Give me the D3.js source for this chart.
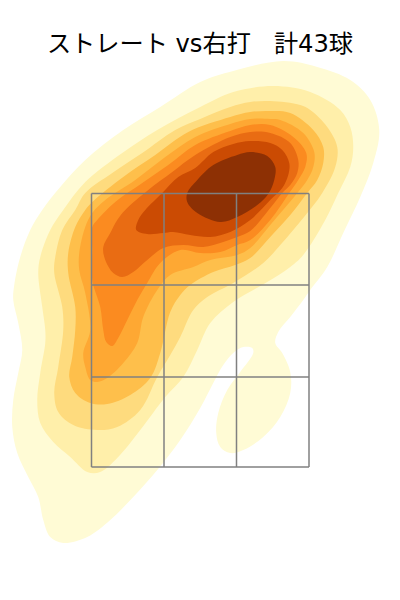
<!DOCTYPE html>
<html><head><meta charset="utf-8">
<script src="https://cdn.jsdelivr.net/npm/d3@7"></script>
<style>html,body{margin:0;padding:0;background:#fff}svg{display:block}</style>
</head><body><svg id="c" width="400" height="600"></svg>
<script>
const titleText = "ストレート vs右打   計43球";
const levelColors = ["#FFFBD5","#FFEFAA","#FEDB7E","#FEBF4B","#FEA833","#FB8B20","#E96C13","#CB4B03","#8D3004"];
const zoneX = [-108.75,-36.25,36.25,108.75];
const zoneH = [0,90,182,273.5];
const ring1 = [[83,406],[117,400],[150,387],[170,367],[179,337],[173,304],[160,270],[143,234],[127,200],[110,177],[103,167],[90,150],[78,135],[75,124],[82,114],[90,95],[90,74],[80,50],[63,30],[43,17],[30,14],[20,20],[16,34],[18,54],[27,77],[40,95],[53,114],[52,119],[43,120],[33,114],[23,102],[13,84],[0,59],[-20,27],[-43,-3],[-67,-30],[-90,-53],[-113,-70],[-137,-76],[-150,-70],[-157,-53],[-162,-30],[-172,-10],[-183,14],[-188,40],[-187,67],[-182,94],[-178,117],[-182,144],[-187,167],[-186,182],[-180,210],[-170,237],[-158,257],[-140,280],[-115,307],[-77,337],[-40,360],[0,385],[33,396]];
const ring2 = [[73,381],[110,375],[140,357],[150,340],[153,320],[150,300],[138,274],[125,247],[103,212],[90,200],[67,185],[33,165],[10,144],[-3,117],[-17,90],[-35,70],[-60,37],[-83,9],[-100,-5],[-113,-5],[-130,10],[-147,25],[-160,44],[-163,67],[-160,94],[-155,124],[-155,137],[-158,160],[-162,194],[-160,210],[-150,237],[-137,257],[-115,285],[-78,314],[-43,337],[0,360],[33,375]];
const ring3 = [[70,366],[100,362],[110,357],[127,340],[137,320],[135,300],[122,274],[103,249],[80,222],[63,204],[33,184],[7,170],[-7,157],[-20,130],[-30,112],[-43,90],[-60,57],[-83,40],[-103,37],[-127,42],[-142,55],[-146,74],[-142,100],[-137,137],[-138,160],[-146,194],[-145,210],[-138,237],[-125,257],[-115,274],[-88,294],[-58,314],[-25,337],[0,348],[30,360],[50,365]];
const ring4 = [[70,356],[90,354],[113,337],[123,320],[123,304],[117,287],[107,274],[90,252],[70,230],[50,209],[35,202],[13,195],[-10,182],[-20,172],[-30,155],[-40,114],[-50,89],[-70,72],[-93,63],[-110,64],[-125,74],[-131,90],[-128,110],[-125,137],[-125,160],[-132,194],[-132,214],[-125,240],[-115,257],[-108,265],[-77,290],[-45,312],[-12,335],[30,350],[50,355]];
const ring5 = [[50,348],[70,348],[80,347],[103,334],[114,315],[113,300],[107,287],[97,274],[70,242],[50,219],[37,212],[10,207],[-7,200],[-30,192],[-43,177],[-57,150],[-63,124],[-77,104],[-93,89],[-103,85],[-110,87],[-115,100],[-117,114],[-110,137],[-115,174],[-121,197],[-121,214],[-115,240],[-108,254],[-95,267],[-65,287],[-35,310],[-5,330],[30,343]];
const ring6 = [[50,342],[70,342],[93,330],[106,314],[105,300],[98,287],[89,274],[70,247],[50,227],[37,222],[20,215],[0,214],[-20,217],[-40,204],[-53,184],[-63,167],[-73,147],[-82,129],[-88,121],[-94,125],[-97,137],[-100,160],[-108,187],[-108,217],[-108,240],[-103,247],[-85,265],[-58,284],[-32,302],[-5,322],[30,336]];
const ring7 = [[50,335],[70,334],[90,324],[98,307],[97,294],[90,282],[82,274],[70,259],[50,236],[37,230],[23,225],[3,220],[-17,222],[-37,219],[-53,207],[-67,195],[-78,190],[-87,194],[-95,207],[-97,220],[-90,234],[-83,247],[-75,257],[-52,277],[-28,295],[-5,312],[30,330]];
const ring8 = [[50,326],[70,324],[82,317],[89,304],[88,292],[82,279],[70,267],[50,247],[30,235],[10,230],[-10,232],[-27,235],[-37,234],[-53,233],[-64,237],[-62,247],[-55,257],[-38,274],[-22,290],[-5,299],[13,315],[33,323]];
const ring9 = [[50,315],[67,311],[75,300],[74,287],[68,273],[57,262],[37,250],[20,245],[-3,254],[-13,265],[-13,274],[-3,287],[13,302],[37,312]];
const rings = [ring1,ring2,ring3,ring4,ring5,ring6,ring7,ring8,ring9];

const svg = d3.select("#c");
const x = d3.scaleLinear().domain([zoneX[0],zoneX[3]]).range([91.5,309]);
const y = d3.scaleLinear().domain([zoneH[0],zoneH[3]]).range([467,193.5]);
const line = d3.line().x(d=>x(d[0])).y(d=>y(d[1])).curve(d3.curveCatmullRomClosed.alpha(0.5));

svg.append("g").selectAll("path").data(rings).join("path")
  .attr("d",line).attr("fill",(d,i)=>levelColors[i]).attr("stroke","none");

const grid = svg.append("g").attr("stroke","#808080").attr("stroke-width",1.5).attr("fill","none");
grid.selectAll("line.v").data(zoneX).join("line").attr("class","v")
  .attr("x1",d=>x(d)).attr("x2",d=>x(d)).attr("y1",y(zoneH[0])).attr("y2",y(zoneH[3]));
grid.selectAll("line.h").data(zoneH).join("line").attr("class","h")
  .attr("y1",d=>y(d)).attr("y2",d=>y(d)).attr("x1",x(zoneX[0])).attr("x2",x(zoneX[3]));

svg.append("text").attr("x",200).attr("y",52).attr("text-anchor","middle")
  .attr("font-family","'DejaVu Sans','Noto Sans CJK JP',sans-serif").attr("font-size",24.2)
  .style("white-space","pre").attr("fill","#000").text(titleText);
</script></body></html>
